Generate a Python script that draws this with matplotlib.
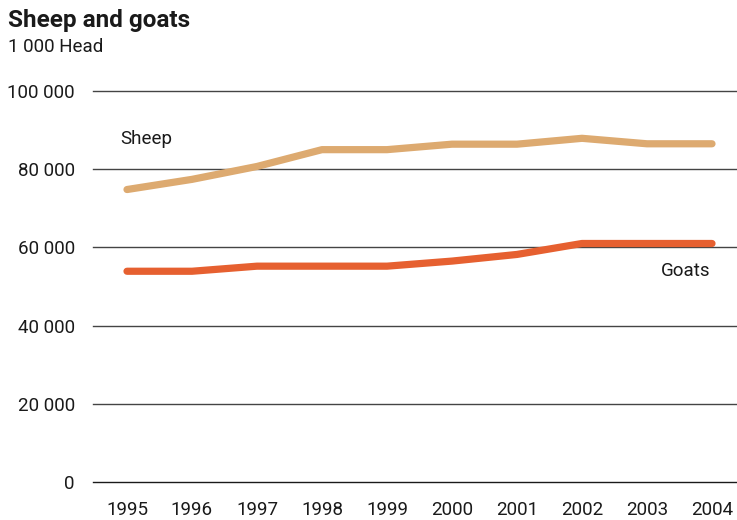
import numpy as np
import matplotlib.pyplot as plt
from matplotlib.ticker import FuncFormatter

plt.rcParams['font.family'] = ['Roboto', 'DejaVu Sans']
fs = 13.5

years = [1995, 1996, 1997, 1998, 1999, 2000, 2001, 2002, 2003, 2004]
sheep = [74800, 77400, 80700, 85000, 85000, 86400, 86400, 87900, 86500, 86500]
goats = [53900, 53900, 55200, 55200, 55200, 56500, 58200, 61000, 61000, 61000]
yticks = [0, 20000, 40000, 60000, 80000, 100000]

fig = plt.figure(figsize=(7.37, 5.2), dpi=100)
ax = fig.add_axes([93/737, 1 - 482/520, 644/737, 391/520])

for y in yticks:
	ax.axhline(y, color='#1a1a1a' if y == 0 else '#444444', lw=1.0, zorder=1, clip_on=False)

ax.plot(years, sheep, color='#DDAA70', lw=5.2, solid_capstyle='round', solid_joinstyle='round', zorder=3)
ax.plot(years, goats, color='#E66030', lw=5.2, solid_capstyle='round', solid_joinstyle='round', zorder=3)

ax.text(1994.9, 87700, 'Sheep', fontsize=fs, ha='left', va='center', color='#1a1a1a')
ax.text(2003.98, 54000, 'Goats', fontsize=fs, ha='right', va='center', color='#1a1a1a')

ax.set_xlim(1995 - 34*9/585, 2004 + 25*9/585)
ax.set_ylim(0, 100000)
ax.set_xticks(years)
ax.set_yticks(yticks)
ax.yaxis.set_major_formatter(FuncFormatter(lambda v, p: '{:,}'.format(int(v)).replace(',', ' ')))
ax.tick_params(length=0, labelsize=fs, colors='#1a1a1a')
ax.tick_params(axis='y', pad=13)
ax.tick_params(axis='x', pad=14)
for s in ax.spines.values():
	s.set_visible(False)
ax.patch.set_alpha(0)

fig.text(8/737, 1 - 21/520, 'Sheep and goats', fontsize=17.5, fontweight='bold', va='center', ha='left', color='#1a1a1a')
fig.text(8/737, 1 - 47/520, '1 000 Head', fontsize=fs, va='center', ha='left', color='#1a1a1a')

fig.savefig('out.png', dpi=100)
